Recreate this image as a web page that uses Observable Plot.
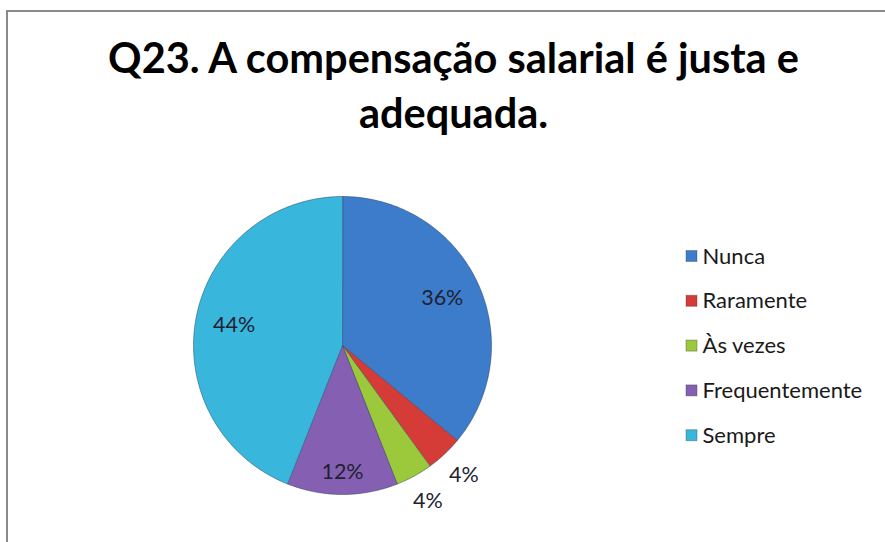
<!DOCTYPE html>
<html>
<head>
<meta charset="utf-8">
<script src="https://cdn.jsdelivr.net/npm/d3@7"></script>
<script src="https://cdn.jsdelivr.net/npm/@observablehq/plot@0.6"></script>
<style>
  html, body { margin: 0; padding: 0; background: #fff; width: 885px; height: 542px; overflow: hidden; }
  #wrap { position: relative; width: 885px; height: 542px; }
  #frame { position: absolute; left: 6px; top: 10px; right: -10px; bottom: -10px; border-left: 2px solid #8a8a8a; border-top: 2px solid #8a8a8a; pointer-events: none; }
  #chart { position: absolute; left: 0; top: 0; }
</style>
</head>
<body>
<div id="wrap"><div id="chart"></div><div id="frame"></div></div>
<script>
const categories = ["Nunca", "Raramente", "Às vezes", "Frequentemente", "Sempre"];
const values = [36, 4, 4, 12, 44];
const percentLabels = ["36%", "4%", "4%", "12%", "44%"];
const titleLines = ["Q23. A compensação salarial é justa e", "adequada."];

const palette = ["#3d7ccb", "#d63c37", "#9cc93b", "#8560b2", "#39b6dc"];

// layout
const W = 885, H = 542;
const cx = 342, cy = 345, R = 149;
const total = d3.sum(values);

let acc = 0;
const slices = categories.map((cat, i) => {
  const a0 = acc / total * 2 * Math.PI;
  acc += values[i];
  const a1 = acc / total * 2 * Math.PI;
  const mid = (a0 + a1) / 2;
  const v = values[i];
  const lr = v < 10 ? 1.19 * R : v < 20 ? 0.85 * R : 0.74 * R;
  return {cat, value: v, label: percentLabels[i], a0, a1,
          lx: cx + lr * Math.sin(mid), ly: cy - lr * Math.cos(mid)};
});

const polyPoints = [];
for (const s of slices) {
  polyPoints.push({cat: s.cat, x: cx, y: cy});
  const n = Math.max(2, Math.ceil((s.a1 - s.a0) / (Math.PI / 180)));
  for (let k = 0; k <= n; k++) {
    const a = s.a0 + (s.a1 - s.a0) * k / n;
    polyPoints.push({cat: s.cat, x: cx + R * Math.sin(a), y: cy - R * Math.cos(a)});
  }
}

const legendX = 686, legendY0 = 256, legendStep = 44.8, sw = 11;

const chart = Plot.plot({
  width: W,
  height: H,
  margin: 0,
  x: {domain: [0, W], range: [0, W], axis: null},
  y: {domain: [0, H], range: [0, H], axis: null},
  color: {domain: categories, range: palette},
  style: {fontFamily: "Lato, 'Open Sans', sans-serif", background: "white", overflow: "visible"},
  marks: [
    Plot.line(polyPoints, {x: "x", y: "y", z: "cat", fill: "cat", curve: "linear-closed",
      stroke: "#1f3550", strokeOpacity: 0.45, strokeWidth: 1}),
    Plot.text(slices, {x: "lx", y: "ly", text: "label", fontSize: 21.5, fill: "#1e2230"}),
    Plot.text(titleLines, {x: 453, y: (d, i) => 59 + i * 55, text: d => d,
      fontSize: 41.5, fontWeight: "bold", fill: "#000"}),
    Plot.rect(categories, {x1: legendX, x2: legendX + sw,
      y1: (d, i) => legendY0 + i * legendStep - sw / 2,
      y2: (d, i) => legendY0 + i * legendStep + sw / 2,
      fill: d => d, stroke: "#333", strokeOpacity: 0.35}),
    Plot.text(categories, {x: legendX + sw + 5, y: (d, i) => legendY0 + i * legendStep,
      text: d => d, textAnchor: "start", fontSize: 22, fill: "#1a1a1a"})
  ]
});
document.getElementById("chart").appendChild(chart);
</script>
</body>
</html>
